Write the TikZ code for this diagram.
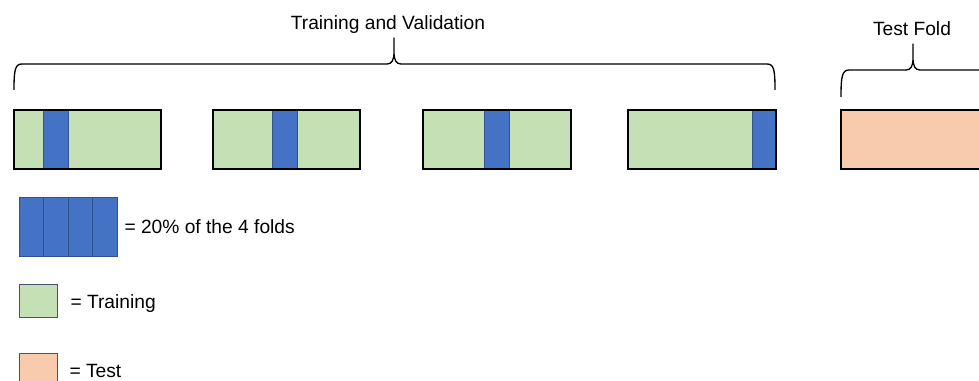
\documentclass[tikz,border=0pt]{standalone}
\usepackage{fontspec}
\setmainfont{Liberation Sans}
\definecolor{trainGreen}{HTML}{C5E0B4}
\definecolor{valBlue}{HTML}{4472C4}
\definecolor{valEdge}{HTML}{2F528F}
\definecolor{testPeach}{HTML}{F8CBAD}
\definecolor{keyEdge}{HTML}{44546A}

\tikzset{every picture/.style={line width=0.75pt}}

\begin{document}
\begin{tikzpicture}[
            x=0.75pt,
            y=0.75pt,
            yscale=-1,
            xscale=1,
            every node/.style={text=black,font=\fontsize{14.4}{17}\selectfont},
            foldframe/.style={draw=black,line width=1.5pt},
            valstrip/.style={fill=valBlue,draw=valEdge,line width=0.75pt},
            keybox/.style={draw=keyEdge,line width=0.75pt},
            bracepath/.style={draw=black,line width=1pt,line join=round}
        ]
            \useasboundingbox (0,0) rectangle (979,381);

            % the four training/validation folds
            \foreach \xa/\xb/\va/\vb in {14/161/43/68, 213/360/272/297, 423/571/484/509, 628/776/752/776} {
                \fill [trainGreen] (\xa,110) rectangle (\xb,169);
                \draw [valstrip] (\va,110) rectangle (\vb,169);
                \draw [foldframe] (\xa,110) rectangle (\xb,169);
            }
            % test fold
            \draw [foldframe,fill=testPeach] (841,110) rectangle (995,169);

            % braces
            \draw [bracepath] (14,90) .. controls (14,70) and (15,64) .. (22,64) -- (387,64) .. controls (392,64) and (394,60) .. (394,52) -- (394,38) -- (394,52) .. controls (394,60) and (396,64) .. (401,64) -- (767,64) .. controls (774,64) and (775,70) .. (775,90) ;
            \draw [bracepath] (841,97) .. controls (841,77) and (842,70) .. (849,70) -- (906,70) .. controls (911,70) and (913,66) .. (913,58) -- (913,44) -- (913,58) .. controls (913,66) and (915,70) .. (920,70) -- (990,70) ;

            \node (tvlabel) [anchor=base,inner sep=0] at (388,30) {Training and Validation};
            \node (testlabel) [anchor=base,inner sep=0] at (912,36) {Test Fold};

            % legend
            \foreach \i in {0,...,3} {
                \draw [valstrip] (19+24.5*\i,198) rectangle +(24.5,59);
            }
            \draw [keybox,fill=trainGreen] (19,285) rectangle (57,317);
            \draw [keybox,fill=testPeach] (19,353) rectangle (57,395);

            \node (keyval) [anchor=base west,inner sep=0] at (124,234) {= 20\% of the 4 folds};
            \node (keytrain) [anchor=base west,inner sep=0] at (70,308) {= Training};
            \node (keytest) [anchor=base west,inner sep=0] at (69,377) {= Test};
        \end{tikzpicture}
\end{document}
